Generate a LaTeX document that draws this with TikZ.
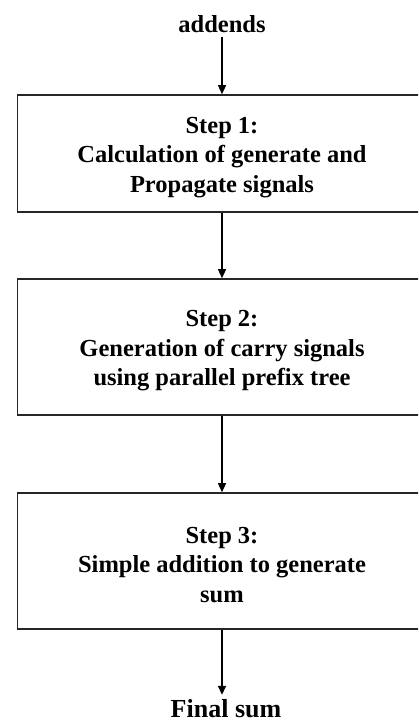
\documentclass[tikz,border=0pt]{standalone}
\usepackage{fontspec}
\setmainfont{Liberation Serif}
\usetikzlibrary{arrows.meta}
\newcommand\mytopstrut{\rule{0pt}{23.5pt}}
\begin{document}
\begin{tikzpicture}[x=1pt,y=-1pt,
  stepbox/.style={draw=black!85,line width=1.6pt,minimum width=409pt,minimum height=117pt,
    align=center,font=\fontsize{24.5}{29.5}\selectfont\bfseries,inner sep=0pt},
  lbl/.style={font=\fontsize{24.5}{29.5}\selectfont\bfseries,inner sep=0pt,text height=17pt,text depth=0pt},
  conn/.style={line width=1.4pt,-{Triangle[width=8pt,length=9pt]}}]
\useasboundingbox (0,0) rectangle (418,725);
\clip (0,0) rectangle (418,725);
\node[lbl] (add) at (222,24) {addends};
\node[stepbox,minimum height=117pt] (s1) at (222,153.5) {\mytopstrut Step 1:\\Calculation of generate and\\Propagate signals};
\node[stepbox,minimum height=136pt] (s2) at (222,347) {\mytopstrut Step 2:\\Generation of carry signals\\using parallel prefix tree};
\node[stepbox,minimum height=136pt] (s3) at (222,561) {\mytopstrut Step 3:\\Simple addition to generate\\sum};
\node[lbl,font=\fontsize{26}{30}\selectfont\bfseries] (fin) at (226,708.5) {Final sum};
\draw[conn,shorten <=4pt] (add.south) -- (s1.north);
\draw[conn] (s1.south) -- (s2.north);
\draw[conn] (s2.south) -- (s3.north);
\draw[conn,shorten >=5pt] (s3.south) -- (s3.south |- fin.north);
\end{tikzpicture}
\end{document}
